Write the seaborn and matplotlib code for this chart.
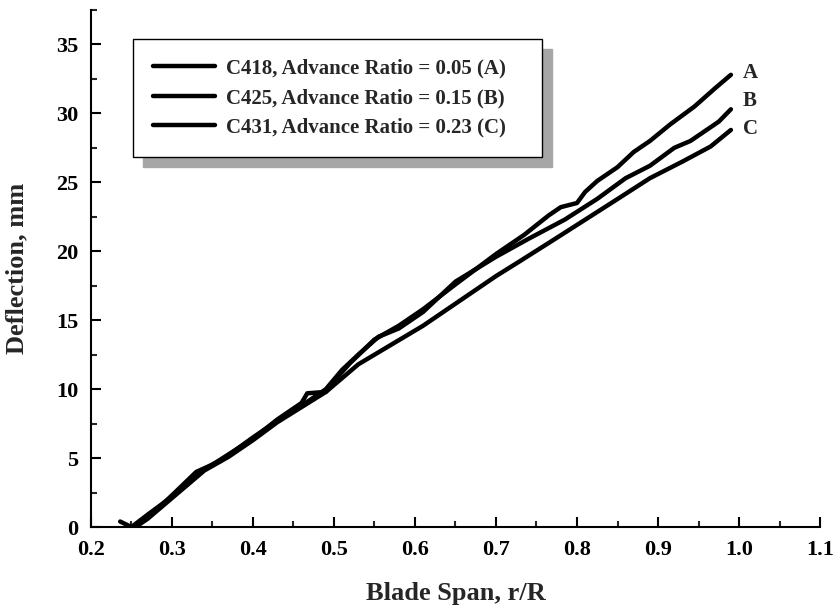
import pandas as pd
import numpy as np
import seaborn as sns
import matplotlib.pyplot as plt
from matplotlib.ticker import MultipleLocator, FormatStrFormatter

sns.set_theme(style='ticks')
plt.rcParams['font.family'] = ['Liberation Serif', 'DejaVu Serif']
plt.rcParams['font.weight'] = 'bold'

# curve A : C418, advance ratio 0.05
a_x = [0.236, 0.25, 0.27, 0.30, 0.33, 0.36, 0.40, 0.43, 0.46, 0.467, 0.49, 0.50, 0.52, 0.55,
       0.58, 0.61, 0.65, 0.70, 0.735, 0.765, 0.78, 0.80, 0.81, 0.825, 0.85, 0.87, 0.89,
       0.915, 0.945, 0.97, 0.99]
a_y = [0.4, 0.0, 0.9, 2.2, 3.8, 4.9, 6.4, 7.8, 9.0, 9.7, 9.8, 10.6, 11.9, 13.6,
       14.6, 15.8, 17.6, 19.8, 21.2, 22.6, 23.2, 23.5, 24.3, 25.1, 26.1, 27.2, 28.0,
       29.2, 30.5, 31.8, 32.8]

# curve B : C425, advance ratio 0.15
b_x = [0.25, 0.26, 0.28, 0.30, 0.33, 0.36, 0.40, 0.43, 0.46, 0.49, 0.51, 0.53, 0.555,
       0.58, 0.61, 0.65, 0.70, 0.74, 0.785, 0.825, 0.86, 0.89, 0.92, 0.94, 0.955, 0.975, 0.99]
b_y = [0.0, 0.3, 1.2, 2.3, 4.0, 4.8, 6.5, 7.7, 8.8, 10.0, 11.4, 12.5, 13.8,
       14.4, 15.6, 17.8, 19.6, 20.9, 22.3, 23.8, 25.3, 26.2, 27.5, 28.0, 28.6, 29.4, 30.3]

# curve C : C431, advance ratio 0.23
c_x = [0.255, 0.27, 0.29, 0.31, 0.34, 0.37, 0.40, 0.43, 0.46, 0.49, 0.51, 0.53, 0.57,
       0.61, 0.66, 0.70, 0.73, 0.765, 0.805, 0.845, 0.89, 0.93, 0.965, 0.99]
c_y = [0.0, 0.6, 1.6, 2.6, 4.1, 5.1, 6.3, 7.6, 8.7, 9.8, 10.8, 11.8, 13.2,
       14.6, 16.6, 18.2, 19.3, 20.6, 22.1, 23.6, 25.3, 26.5, 27.6, 28.8]

labels = ['C418, Advance Ratio = 0.05 (A)',
          'C425, Advance Ratio = 0.15 (B)',
          'C431, Advance Ratio = 0.23 (C)']
end_tags = ['A', 'B', 'C']
tag_y = [32.9, 30.9, 28.9]

df = pd.concat([
    pd.DataFrame({'r': a_x, 'defl': a_y, 'case': labels[0]}),
    pd.DataFrame({'r': b_x, 'defl': b_y, 'case': labels[1]}),
    pd.DataFrame({'r': c_x, 'defl': c_y, 'case': labels[2]}),
], ignore_index=True)

fig = plt.figure(figsize=(8.37, 6.09), dpi=100)
ax = fig.add_axes([0.1087, 0.1346, 0.871, 0.849])

sns.lineplot(data=df, x='r', y='defl', hue='case', palette=['black'] * 3,
             sort=False, estimator=None, linewidth=3.2, legend=False, ax=ax)

ax.set_xlim(0.2, 1.1)
ax.set_ylim(0, 37.5)
ax.xaxis.set_major_locator(MultipleLocator(0.1))
ax.xaxis.set_minor_locator(MultipleLocator(0.05))
ax.yaxis.set_major_locator(MultipleLocator(5))
ax.yaxis.set_minor_locator(MultipleLocator(2.5))
ax.xaxis.set_major_formatter(FormatStrFormatter('%.1f'))

ax.spines['top'].set_visible(False)
ax.spines['right'].set_visible(False)
for s in ['left', 'bottom']:
    ax.spines[s].set_linewidth(1.5)
    ax.spines[s].set_color('black')
ax.tick_params(which='major', direction='in', length=7, width=1.5, labelsize=16,
               colors='black', pad=9)
ax.tick_params(which='minor', direction='in', length=4, width=1.5)
ax.tick_params(top=False, right=False)
for lab in ax.get_xticklabels() + ax.get_yticklabels():
    lab.set_fontweight('bold')

ax.set_xlabel('Blade Span, r/R', fontsize=19, fontweight='bold', labelpad=16)
ax.set_ylabel('Deflection, mm', fontsize=19, fontweight='bold', labelpad=20)

# end-of-curve tags
for tag, ty in zip(end_tags, tag_y):
    ax.text(1.005, ty, tag, fontsize=15, fontweight='bold', va='center', ha='left')

leg = ax.legend(ax.lines[:3], labels, loc='upper left',
                bbox_to_anchor=(0.0576, 0.944, 0.561, 0.0), mode='expand',
                borderaxespad=0, fancybox=False, frameon=True,
                prop={'size': 15, 'weight': 'bold'},
                handlelength=3.0, handletextpad=0.5, labelspacing=0.45,
                borderpad=0.95,
                shadow={'ox': 7, 'oy': -7, 'facecolor': '#a6a6a6',
                        'edgecolor': '#a6a6a6', 'alpha': 1})
leg.get_frame().set_edgecolor('black')
leg.get_frame().set_linewidth(1.0)
leg.get_frame().set_alpha(1)

fig.savefig('out.png', dpi=100)
